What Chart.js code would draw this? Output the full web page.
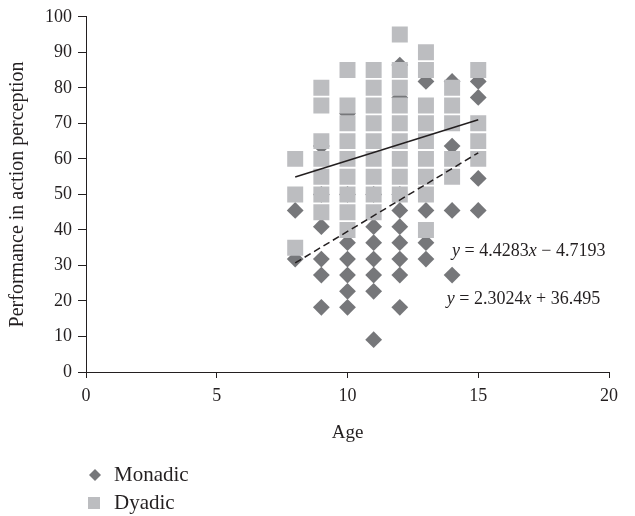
<!DOCTYPE html>
<html>
<head>
<meta charset="utf-8">
<script src="https://cdn.jsdelivr.net/npm/chart.js@4.4.1/dist/chart.umd.min.js"></script>
<style>
  body { margin: 0; background: #fff; }
  .chartBox { width: 635px; height: 516px; }
</style>
</head>
<body>
<div class="chartBox"><canvas id="scatter"></canvas></div>
<script>
"use strict";

// ? DATA
// ! ========================== ! \\
const monadicAge = [
  8, 8,
  9, 9, 9, 9, 9, 9,
  10, 10, 10, 10, 10, 10, 10,
  11, 11, 11, 11, 11, 11, 11,
  12, 12, 12, 12, 12, 12, 12, 12, 12,
  13, 13, 13, 13,
  14, 14, 14, 14,
  15, 15, 15, 15,
];
const monadicScore = [
  45.5, 31.8,
  63.6, 50.0, 40.9, 31.8, 27.3, 18.2,
  72.7, 50.0, 36.4, 31.8, 27.3, 22.7, 18.2,
  50.0, 40.9, 36.4, 31.8, 27.3, 22.7, 9.1,
  86.4, 77.3, 50.0, 45.5, 40.9, 36.4, 31.8, 27.3, 18.2,
  81.8, 45.5, 36.4, 31.8,
  81.8, 63.6, 45.5, 27.3,
  81.8, 77.3, 54.5, 45.5,
];

const dyadicAge = [
  8, 8, 8,
  9, 9, 9, 9, 9, 9, 9,
  10, 10, 10, 10, 10, 10, 10, 10, 10,
  11, 11, 11, 11, 11, 11, 11, 11, 11,
  12, 12, 12, 12, 12, 12, 12, 12, 12,
  13, 13, 13, 13, 13, 13, 13, 13, 13,
  14, 14, 14, 14, 14,
  15, 15, 15, 15,
];
const dyadicScore = [
  60, 50, 35,
  80, 75, 65, 60, 55, 50, 45,
  85, 75, 70, 65, 60, 55, 50, 45, 40,
  85, 80, 75, 70, 65, 60, 55, 50, 45,
  95, 85, 80, 75, 70, 65, 60, 55, 50,
  90, 85, 75, 70, 65, 60, 55, 50, 40,
  80, 75, 70, 60, 55,
  85, 70, 65, 60,
];

// trend lines (as printed on the chart), drawn over the age range of the data
const trendRange = [8, 15];
const monadicFit = { slope: 4.4283, intercept: -4.7193 };
const dyadicFit = { slope: 2.3024, intercept: 36.495 };

const xTicks = [0, 5, 10, 15, 20];
const yTicks = [0, 10, 20, 30, 40, 50, 60, 70, 80, 90, 100];

const seriesNames = ["Monadic", "Dyadic"];

// ? HELPERS
// ! ========================== ! \\
const FONT = "'Liberation Serif', 'DejaVu Serif', serif";
const INK = "#231f20";
const MONADIC_COLOR = "#76777a";
const DYADIC_COLOR = "#bcbdc0";

const toPoints = (xs, ys) => xs.map((x, i) => ({ x: x, y: ys[i] }));
const fitLine = (fit) =>
  trendRange.map((x) => ({ x: x, y: fit.slope * x + fit.intercept }));

const fmt = (n) => String(Math.abs(n));
const equationParts = (fit) => [
  { t: "y", i: true },
  { t: " = " + fmt(fit.slope), i: false },
  { t: "x", i: true },
  { t: (fit.intercept < 0 ? " \u2212 " : " + ") + fmt(fit.intercept), i: false },
];

// equation labels, anchored in data units
const equations = [
  { fit: monadicFit, at: { x: 14.0, y: 34.1 } },
  { fit: dyadicFit, at: { x: 13.8, y: 20.6 } },
];

const equationPlugin = {
  id: "equations",
  afterDatasetsDraw(chart) {
    const { ctx, scales } = chart;
    ctx.save();
    ctx.fillStyle = INK;
    ctx.textBaseline = "middle";
    equations.forEach((eq) => {
      let px = scales.x.getPixelForValue(eq.at.x);
      const py = scales.y.getPixelForValue(eq.at.y);
      equationParts(eq.fit).forEach((part) => {
        ctx.font = (part.i ? "italic " : "") + "18px " + FONT;
        ctx.fillText(part.t, px, py);
        px += ctx.measureText(part.t).width;
      });
    });
    ctx.restore();
  },
};

// legend stacked under the plot, bottom left
const legendPlugin = {
  id: "stackedLegend",
  afterDraw(chart) {
    const { ctx } = chart;
    const rows = [
      { shape: "diamond", color: MONADIC_COLOR, y: 475 },
      { shape: "square", color: DYADIC_COLOR, y: 503 },
    ];
    ctx.save();
    ctx.font = "21px " + FONT;
    ctx.textBaseline = "middle";
    rows.forEach((row, i) => {
      ctx.fillStyle = row.color;
      ctx.beginPath();
      if (row.shape === "diamond") {
        ctx.moveTo(95, row.y - 6);
        ctx.lineTo(101, row.y);
        ctx.lineTo(95, row.y + 6);
        ctx.lineTo(89, row.y);
      } else {
        ctx.rect(88, row.y - 6, 12, 12);
      }
      ctx.closePath();
      ctx.fill();
      ctx.fillStyle = INK;
      ctx.fillText(seriesNames[i], 114, row.y);
    });
    ctx.restore();
  },
};

// ? CHART
// ! ========================== ! \\
const config = {
  type: "scatter",
  data: {
    datasets: [
      {
        type: "line",
        label: "Dyadic trend",
        data: fitLine(dyadicFit),
        borderColor: INK,
        borderWidth: 1.5,
        pointRadius: 0,
        fill: false,
        order: 0,
      },
      {
        type: "line",
        label: "Monadic trend",
        data: fitLine(monadicFit),
        borderColor: INK,
        borderWidth: 1.5,
        borderDash: [7, 4],
        pointRadius: 0,
        fill: false,
        order: 0,
      },
      {
        label: seriesNames[1],
        data: toPoints(dyadicAge, dyadicScore),
        pointStyle: "rect",
        pointRadius: 11.3,
        pointHoverRadius: 11.3,
        backgroundColor: DYADIC_COLOR,
        borderWidth: 0,
        order: 1,
      },
      {
        label: seriesNames[0],
        data: toPoints(monadicAge, monadicScore),
        pointStyle: "rectRot",
        pointRadius: 8.4,
        pointHoverRadius: 8.4,
        backgroundColor: MONADIC_COLOR,
        borderWidth: 0,
        order: 2,
      },
    ],
  },
  options: {
    responsive: true,
    maintainAspectRatio: false,
    animation: false,
    layout: { padding: { left: 0, right: 26, top: 15, bottom: 72 } },
    plugins: {
      legend: { display: false },
      tooltip: { enabled: false },
    },
    scales: {
      x: {
        type: "linear",
        min: 0,
        max: 20,
        afterBuildTicks: (scale) => {
          scale.ticks = xTicks.map((v) => ({ value: v }));
        },
        afterFit: (scale) => {
          scale.height = 72;
        },
        grid: {
          drawOnChartArea: false,
          tickLength: 6,
          color: INK,
        },
        border: { color: INK, width: 1 },
        ticks: {
          color: INK,
          padding: 7,
          font: { family: FONT, size: 18 },
        },
        title: {
          display: true,
          text: "Age",
          color: INK,
          padding: { top: 0, bottom: 0 },
          font: { family: FONT, size: 19 },
        },
      },
      y: {
        type: "linear",
        min: 0,
        max: 100,
        afterBuildTicks: (scale) => {
          scale.ticks = yTicks.map((v) => ({ value: v }));
        },
        afterFit: (scale) => {
          scale.width = 86;
        },
        grid: {
          drawOnChartArea: false,
          tickLength: 8,
          color: INK,
        },
        border: { color: INK, width: 1 },
        ticks: {
          color: INK,
          padding: 6,
          font: { family: FONT, size: 18 },
        },
        title: {
          display: true,
          text: "Performance in action perception",
          color: INK,
          padding: { top: 6, bottom: 0 },
          font: { family: FONT, size: 20 },
        },
      },
    },
  },
  plugins: [equationPlugin, legendPlugin],
};

const ctx = document.getElementById("scatter").getContext("2d");
const chart = new Chart(ctx, config);
</script>
</body>
</html>
